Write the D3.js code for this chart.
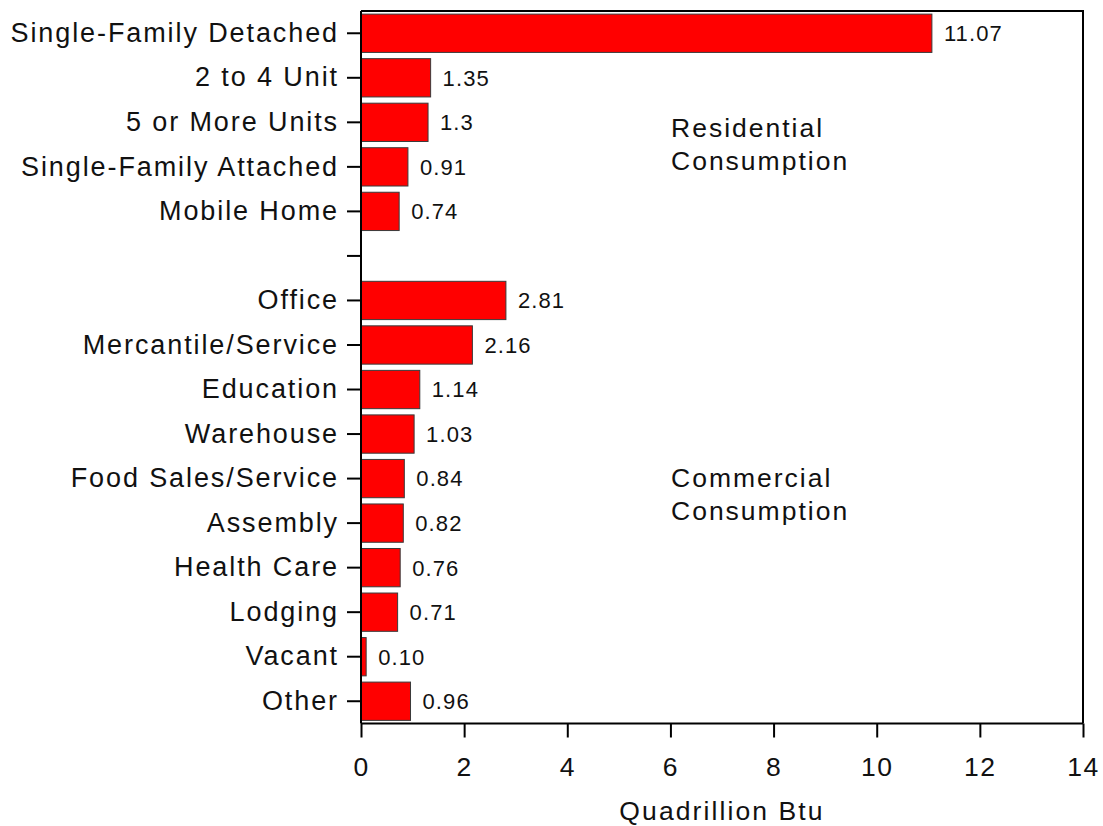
<!DOCTYPE html>
<html>
<head>
<meta charset="utf-8">
<script src="https://cdn.jsdelivr.net/npm/d3@7"></script>
<style>
  body { margin: 0; background: #fff; }
  svg { display: block; font-family: "Liberation Sans", Arial, sans-serif; }
</style>
</head>
<body>
<svg id="chart" width="1103" height="826"></svg>
<script>
// Energy consumption by building type (quadrillion Btu)
const categories = [
  "Single-Family Detached", "2 to 4 Unit", "5 or More Units", "Single-Family Attached", "Mobile Home",
  "",
  "Office", "Mercantile/Service", "Education", "Warehouse", "Food Sales/Service",
  "Assembly", "Health Care", "Lodging", "Vacant", "Other"
];
const values = [11.07, 1.35, 1.3, 0.91, 0.74, null, 2.81, 2.16, 1.14, 1.03, 0.84, 0.82, 0.76, 0.71, 0.10, 0.96];
const valueLabels = ["11.07", "1.35", "1.3", "0.91", "0.74", "", "2.81", "2.16", "1.14", "1.03", "0.84", "0.82", "0.76", "0.71", "0.10", "0.96"];
const xTicks = [0, 2, 4, 6, 8, 10, 12, 14];
const groupNotes = [
  { row: "5 or More Units", shift: 15, lines: ["Residential", "Consumption"] },
  { row: "Food Sales/Service", shift: 8, lines: ["Commercial", "Consumption"] }
];
const xTitle = "Quadrillion Btu";

const FONT = "\"Liberation Sans\", Arial, sans-serif";
const svg = d3.select("#chart");
const m = { left: 361, top: 11, right: 1083, bottom: 723.5 };

const x = d3.scaleLinear().domain([0, 14]).range([m.left, m.right]);
const y = d3.scaleBand().domain(categories.map((c, i) => i)).range([m.top, m.bottom]).paddingInner(0.14).paddingOuter(0.07);
const yt = d3.scaleBand().domain(categories.map((c, i) => i)).range([m.top, m.bottom]);

const rows = categories.map((c, i) => ({ i, c, v: values[i], label: valueLabels[i] }));

// bars
svg.append("g").selectAll("rect")
  .data(rows.filter(d => d.v != null))
  .join("rect")
  .attr("x", x(0))
  .attr("y", d => y(d.i))
  .attr("width", d => x(d.v) - x(0))
  .attr("height", y.bandwidth())
  .attr("fill", "#ff0000")
  .attr("stroke", "#3a3a3a")
  .attr("stroke-width", 1);

// value labels
svg.append("g").selectAll("text")
  .data(rows.filter(d => d.v != null))
  .join("text")
  .attr("x", d => x(d.v) + 12)
  .attr("y", d => yt(d.i) + yt.bandwidth() / 2)
  .attr("dy", "0.36em")
  .attr("font-size", 22)
  .attr("letter-spacing", 1.1)
  .attr("fill", "#111")
  .text(d => d.label);

// frame (top and right edges)
svg.append("path")
  .attr("d", `M${m.left},${m.top}H${m.right}V${m.bottom}`)
  .attr("fill", "none")
  .attr("stroke", "#000")
  .attr("stroke-width", 2);

// y axis
const yAxis = d3.axisLeft(yt).tickSize(14).tickPadding(8).tickFormat(i => categories[i]);
const gy = svg.append("g").attr("transform", `translate(${m.left},0)`).call(yAxis);
gy.attr("font-family", FONT);
gy.select(".domain").attr("stroke-width", 2).attr("d", `M0,${m.top}V${m.bottom}`);
gy.selectAll(".tick line").attr("stroke-width", 2);
gy.selectAll(".tick text").attr("font-size", 27).attr("fill", "#111").attr("letter-spacing", 1.9);

// x axis
const xAxis = d3.axisBottom(x).tickValues(xTicks).tickSize(14).tickPadding(20).tickFormat(d3.format("d"));
const gx = svg.append("g").attr("transform", `translate(0,${m.bottom})`).call(xAxis);
gx.attr("font-family", FONT);
gx.select(".domain").attr("stroke-width", 2).attr("d", `M${m.left},0H${m.right}`);
gx.selectAll(".tick line").attr("stroke-width", 2);
gx.selectAll(".tick text").attr("font-size", 26.5).attr("fill", "#111").attr("letter-spacing", 1.5);

// axis title
svg.append("text")
  .attr("x", (m.left + m.right) / 2)
  .attr("y", 820)
  .attr("text-anchor", "middle")
  .attr("font-size", 26.5)
  .attr("letter-spacing", 2.1)
  .attr("fill", "#111")
  .text(xTitle);

// group annotations
groupNotes.forEach(n => {
  const idx = categories.indexOf(n.row);
  const t = svg.append("text")
    .attr("x", 671)
    .attr("y", yt(idx) + yt.bandwidth() / 2 + n.shift)
    .attr("font-size", 26.5)
    .attr("letter-spacing", 2)
    .attr("fill", "#111");
  n.lines.forEach((l, k) => t.append("tspan").attr("x", 671).attr("dy", k === 0 ? 0 : 33).text(l));
});
</script>
</body>
</html>
